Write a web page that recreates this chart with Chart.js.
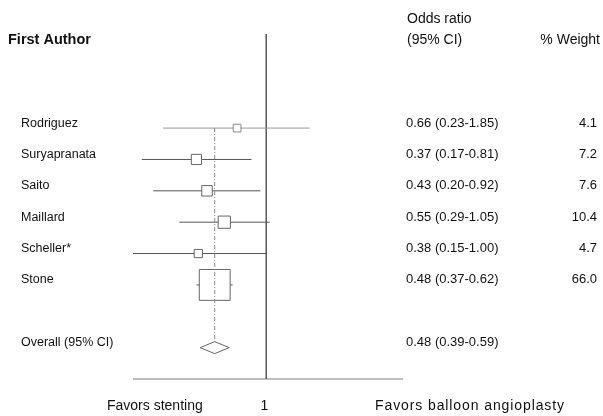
<!DOCTYPE html>
<html>
<head>
<meta charset="utf-8">
<script src="https://cdn.jsdelivr.net/npm/chart.js@4/dist/chart.umd.min.js"></script>
<style>
  html, body { margin: 0; padding: 0; background: #fff; }
  #wrap { width: 603px; height: 416px; }
</style>
</head>
<body>
<div id="wrap"><canvas id="forest" width="603" height="416"></canvas></div>
<script>
// 研究資料
const studies = ['Rodriguez', 'Suryapranata', 'Saito', 'Maillard', 'Scheller*', 'Stone'];
const oddsRatio = [0.66, 0.37, 0.43, 0.55, 0.38, 0.48];
const ciLow = [0.23, 0.17, 0.20, 0.29, 0.15, 0.37];
const ciHigh = [1.85, 0.81, 0.92, 1.05, 1.00, 0.62];
const weights = [4.1, 7.2, 7.6, 10.4, 4.7, 66.0];
const ciText = ['0.66 (0.23-1.85)', '0.37 (0.17-0.81)', '0.43 (0.20-0.92)', '0.55 (0.29-1.05)', '0.38 (0.15-1.00)', '0.48 (0.37-0.62)'];
const weightText = ['4.1', '7.2', '7.6', '10.4', '4.7', '66.0'];

const overallLabel = 'Overall (95% CI)';
const overallOR = 0.48;
const overallLow = 0.39;
const overallHigh = 0.59;
const overallText = '0.48 (0.39-0.59)';
const overallRow = 7;

const xMin = 0.15, xMax = 7;
const FONT = '"Liberation Sans", Arial, sans-serif';

const rows = studies.map((s, i) => i);

// 方塊大小依權重 (面積)
const boxRadius = weights.map(w => 3.8 * Math.sqrt(w) * Math.SQRT1_2);

// 每個研究的信賴區間線
const ciDatasets = studies.map((s, i) => ({
  type: 'line',
  label: s + ' CI',
  data: [{ x: ciLow[i], y: rows[i] }, { x: ciHigh[i], y: rows[i] }],
  borderColor: i === 0 ? '#9a9a9a' : '#555',
  borderWidth: 1,
  pointRadius: 0,
  clip: false
}));

// 森林圖：菱形與文字繪製插件
const forestPlugin = {
  id: 'forestText',
  afterDatasetsDraw(chart) {
    const ctx = chart.ctx;
    const x = chart.scales.x;
    const y = chart.scales.y;
    ctx.save();

    // 合併效果菱形
    const yc = y.getPixelForValue(overallRow);
    const xl = x.getPixelForValue(overallLow);
    const xe = x.getPixelForValue(overallOR);
    const xh = x.getPixelForValue(overallHigh);
    ctx.beginPath();
    ctx.moveTo(xl, yc);
    ctx.lineTo(xe, yc - 6);
    ctx.lineTo(xh, yc);
    ctx.lineTo(xe, yc + 6);
    ctx.closePath();
    ctx.fillStyle = '#fff';
    ctx.fill();
    ctx.strokeStyle = '#666';
    ctx.lineWidth = 1;
    ctx.stroke();

    ctx.fillStyle = '#111';
    ctx.textBaseline = 'middle';

    // 標題
    ctx.font = 'bold 14.5px ' + FONT;
    ctx.textAlign = 'left';
    ctx.fillText('First Author', 8, 40);
    ctx.font = '14px ' + FONT;
    ctx.fillText('Odds ratio', 407, 19);
    ctx.fillText('(95% CI)', 407, 40);
    ctx.textAlign = 'right';
    ctx.fillText('% Weight', 600, 40);

    // 各研究
    studies.forEach((s, i) => {
      const py = y.getPixelForValue(rows[i]) - 5;
      ctx.textAlign = 'left';
      ctx.font = '12.5px ' + FONT;
      ctx.fillText(s, 21, py);
      ctx.font = '13px ' + FONT;
      ctx.fillText(ciText[i], 406, py);
      ctx.textAlign = 'right';
      ctx.fillText(weightText[i], 597, py);
    });
    const oy = y.getPixelForValue(overallRow) - 5;
    ctx.textAlign = 'left';
    ctx.font = '12.5px ' + FONT;
    ctx.fillText(overallLabel, 21, oy);
    ctx.font = '13px ' + FONT;
    ctx.fillText(overallText, 406, oy);

    // 底部說明
    ctx.font = '14px ' + FONT;
    ctx.textAlign = 'left';
    ctx.fillText('Favors stenting', 107, 406);
    ctx.textAlign = 'center';
    ctx.fillText('1', x.getPixelForValue(1) - 2, 406);
    ctx.textAlign = 'left';
    ctx.letterSpacing = '0.9px';
    ctx.fillText('Favors balloon angioplasty', 375, 406);
    ctx.letterSpacing = '0px';

    ctx.restore();
  }
};

new Chart(document.getElementById('forest'), {
  type: 'scatter',
  data: {
    datasets: [
      {
        type: 'line',
        label: 'Overall',
        data: [{ x: overallOR, y: 0 }, { x: overallOR, y: overallRow }],
        borderColor: '#888',
        borderWidth: 1,
        borderDash: [4, 2, 1, 2],
        pointRadius: 0,
        clip: false
      },
      {
        label: 'Odds ratio',
        data: rows.map(i => ({ x: oddsRatio[i], y: i })),
        pointStyle: 'rect',
        pointRadius: boxRadius,
        backgroundColor: '#fff',
        borderColor: rows.map(i => i === 0 ? '#8a8a8a' : '#666'),
        borderWidth: 1,
        clip: false
      },
      ...ciDatasets,
      {
        type: 'line',
        label: 'No effect',
        data: [{ x: 1, y: -3 }, { x: 1, y: 8 }],
        borderColor: '#5a5a5a',
        borderWidth: 1,
        pointRadius: 0,
        clip: false
      },
      {
        type: 'line',
        label: 'Axis left',
        data: [{ x: xMin, y: 8 }, { x: 1, y: 8 }],
        borderColor: '#777',
        borderWidth: 1,
        pointRadius: 0,
        clip: false
      },
      {
        type: 'line',
        label: 'Axis right',
        data: [{ x: 1, y: 8 }, { x: xMax, y: 8 }],
        borderColor: '#aaa',
        borderWidth: 1.5,
        pointRadius: 0,
        clip: false
      }
    ]
  },
  options: {
    responsive: false,
    animation: false,
    layout: { padding: { left: 133, right: 200, top: 34, bottom: 37 } },
    plugins: {
      legend: { display: false },
      tooltip: { enabled: false }
    },
    scales: {
      x: { type: 'logarithmic', min: xMin, max: xMax, display: false },
      y: { type: 'linear', min: -3, max: 8, reverse: true, display: false }
    }
  },
  plugins: [forestPlugin]
});
</script>
</body>
</html>
